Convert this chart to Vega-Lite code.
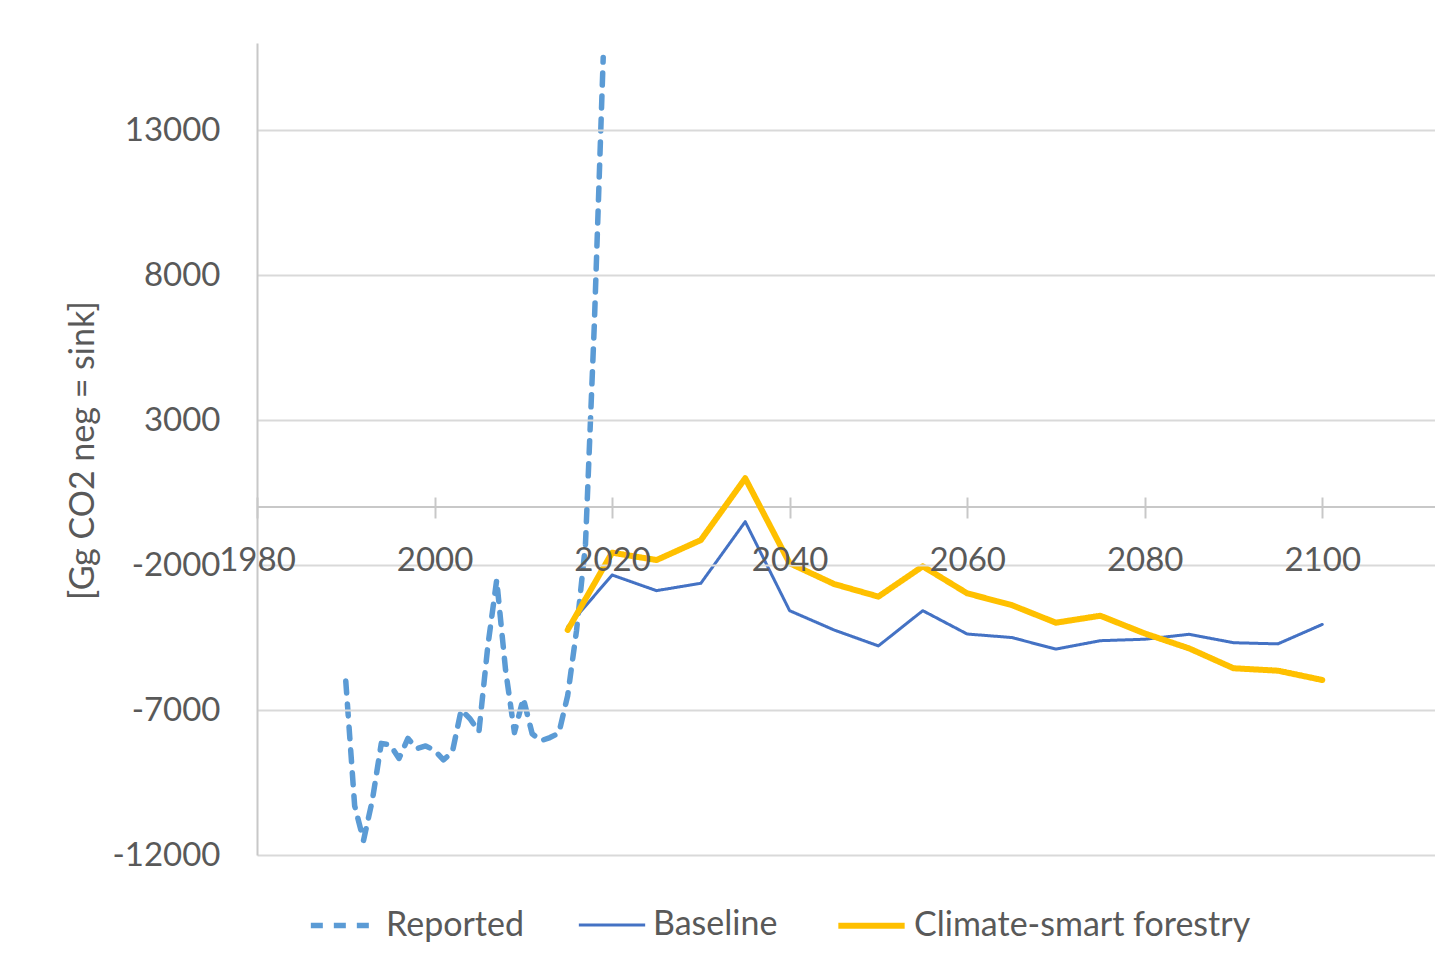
{
  "$schema": "https://vega.github.io/schema/vega-lite/v6.json",
  "width": 1178,
  "height": 812,
  "autosize": {"type": "none"},
  "padding": {"left": 257, "top": 43, "right": 0, "bottom": 109},
  "background": "white",
  "config": {
    "view": {"stroke": null},
    "font": "Lato",
    "legend": {
      "title": null,
      "orient": "none",
      "direction": "horizontal",
      "legendX": 51,
      "legendY": 846,
      "symbolType": "stroke",
      "symbolSize": 4400,
      "labelFont": "Lato",
      "labelFontSize": 34,
      "labelColor": "#595959",
      "labelOffset": 6,
      "columnPadding": 48,
      "labelLimit": 600
    }
  },
  "layer": [
    {
      "data": {"values": [{"z": 0}]},
      "mark": {"type": "rule", "color": "#C8C8C8", "strokeWidth": 2},
      "encoding": {"y": {"datum": 0, "scale": {"domain": [-12000, 16000], "nice": false}}}
    },
    {
      "data": {
        "values": [
          {"series": "Reported", "year": 1990, "value": -6000},
          {"series": "Reported", "year": 1991, "value": -10300},
          {"series": "Reported", "year": 1992, "value": -11500},
          {"series": "Reported", "year": 1993, "value": -10100},
          {"series": "Reported", "year": 1994, "value": -8150},
          {"series": "Reported", "year": 1995, "value": -8200},
          {"series": "Reported", "year": 1996, "value": -8670},
          {"series": "Reported", "year": 1997, "value": -7980},
          {"series": "Reported", "year": 1998, "value": -8330},
          {"series": "Reported", "year": 1999, "value": -8240},
          {"series": "Reported", "year": 2000, "value": -8390},
          {"series": "Reported", "year": 2001, "value": -8720},
          {"series": "Reported", "year": 2002, "value": -8460},
          {"series": "Reported", "year": 2003, "value": -7000},
          {"series": "Reported", "year": 2004, "value": -7300},
          {"series": "Reported", "year": 2005, "value": -7750},
          {"series": "Reported", "year": 2006, "value": -4800},
          {"series": "Reported", "year": 2007, "value": -2520},
          {"series": "Reported", "year": 2008, "value": -5620},
          {"series": "Reported", "year": 2009, "value": -7780},
          {"series": "Reported", "year": 2010, "value": -6600},
          {"series": "Reported", "year": 2011, "value": -7820},
          {"series": "Reported", "year": 2012, "value": -8060},
          {"series": "Reported", "year": 2013, "value": -7950},
          {"series": "Reported", "year": 2014, "value": -7800},
          {"series": "Reported", "year": 2015, "value": -6500},
          {"series": "Reported", "year": 2016, "value": -4250},
          {"series": "Reported", "year": 2017, "value": -1300},
          {"series": "Reported", "year": 2018, "value": 6300},
          {"series": "Reported", "year": 2019, "value": 15500},
          {"series": "Baseline", "year": 2015, "value": -4130},
          {"series": "Baseline", "year": 2020, "value": -2345},
          {"series": "Baseline", "year": 2025, "value": -2885},
          {"series": "Baseline", "year": 2030, "value": -2630},
          {"series": "Baseline", "year": 2035, "value": -506},
          {"series": "Baseline", "year": 2040, "value": -3575},
          {"series": "Baseline", "year": 2045, "value": -4240},
          {"series": "Baseline", "year": 2050, "value": -4790},
          {"series": "Baseline", "year": 2055, "value": -3575},
          {"series": "Baseline", "year": 2060, "value": -4380},
          {"series": "Baseline", "year": 2065, "value": -4500},
          {"series": "Baseline", "year": 2070, "value": -4900},
          {"series": "Baseline", "year": 2075, "value": -4610},
          {"series": "Baseline", "year": 2080, "value": -4560},
          {"series": "Baseline", "year": 2085, "value": -4390},
          {"series": "Baseline", "year": 2090, "value": -4680},
          {"series": "Baseline", "year": 2095, "value": -4720},
          {"series": "Baseline", "year": 2100, "value": -4050},
          {"series": "Climate-smart forestry", "year": 2015, "value": -4240},
          {"series": "Climate-smart forestry", "year": 2020, "value": -1575},
          {"series": "Climate-smart forestry", "year": 2025, "value": -1830},
          {"series": "Climate-smart forestry", "year": 2030, "value": -1140},
          {"series": "Climate-smart forestry", "year": 2035, "value": 990},
          {"series": "Climate-smart forestry", "year": 2040, "value": -1940},
          {"series": "Climate-smart forestry", "year": 2045, "value": -2655},
          {"series": "Climate-smart forestry", "year": 2050, "value": -3090},
          {"series": "Climate-smart forestry", "year": 2055, "value": -2045},
          {"series": "Climate-smart forestry", "year": 2060, "value": -2977},
          {"series": "Climate-smart forestry", "year": 2065, "value": -3380},
          {"series": "Climate-smart forestry", "year": 2070, "value": -3990},
          {"series": "Climate-smart forestry", "year": 2075, "value": -3750},
          {"series": "Climate-smart forestry", "year": 2080, "value": -4360},
          {"series": "Climate-smart forestry", "year": 2085, "value": -4875},
          {"series": "Climate-smart forestry", "year": 2090, "value": -5560},
          {"series": "Climate-smart forestry", "year": 2095, "value": -5645},
          {"series": "Climate-smart forestry", "year": 2100, "value": -5966}
        ]
      },
      "mark": {"type": "line", "strokeCap": "round", "strokeJoin": "round"},
      "encoding": {
        "x": {
          "field": "year",
          "type": "quantitative",
          "scale": {"domain": [1980, 2112.7], "nice": false, "zero": false},
          "axis": {
            "values": [1980, 2000, 2020, 2040, 2060, 2080, 2100],
            "offset": -358,
            "domain": false,
            "ticks": true,
            "tickSize": 21,
            "tickColor": "#C8C8C8",
            "tickWidth": 2,
            "grid": false,
            "labelPadding": 26,
            "labelFont": "Lato",
            "labelFontSize": 33,
            "labelColor": "#595959",
            "labelOverlap": false,
            "labelFlush": false,
            "labelBound": false,
            "format": "d",
            "title": null,
            "zindex": 1
          }
        },
        "y": {
          "field": "value",
          "type": "quantitative",
          "scale": {"domain": [-12000, 16000], "nice": false, "zero": false},
          "axis": {
            "values": [-12000, -7000, -2000, 3000, 8000, 13000],
            "domain": true,
            "domainColor": "#C8C8C8",
            "domainWidth": 2,
            "ticks": false,
            "grid": true,
            "gridColor": "#D9D9D9",
            "gridWidth": 2,
            "labelPadding": 37,
            "labelFont": "Lato",
            "labelFontSize": 33,
            "labelColor": "#595959",
            "labelExpr": "datum.value < 0 ? '-' + format(-datum.value, 'd') : format(datum.value, 'd')",
            "title": "[Gg CO2 neg = sink]",
            "titleFont": "Lato",
            "titleFontSize": 34,
            "titleFontWeight": "normal",
            "titleColor": "#595959",
            "titleAngle": -90,
            "titleAlign": "center",
            "titleBaseline": "middle",
            "titleX": -174,
            "titleY": 407,
            "zindex": 1
          }
        },
        "color": {
          "field": "series",
          "type": "nominal",
          "scale": {
            "domain": ["Reported", "Baseline", "Climate-smart forestry"],
            "range": ["#5B9BD5", "#4472C4", "#FFC000"]
          },
          "legend": {}
        },
        "strokeDash": {
          "field": "series",
          "type": "nominal",
          "scale": {
            "domain": ["Reported", "Baseline", "Climate-smart forestry"],
            "range": [[12, 11], [1, 0], [1, 0]]
          },
          "legend": {}
        },
        "strokeWidth": {
          "field": "series",
          "type": "nominal",
          "scale": {
            "type": "ordinal",
            "domain": ["Reported", "Baseline", "Climate-smart forestry"],
            "range": [5.5, 3, 6]
          },
          "legend": {}
        }
      }
    }
  ]
}
